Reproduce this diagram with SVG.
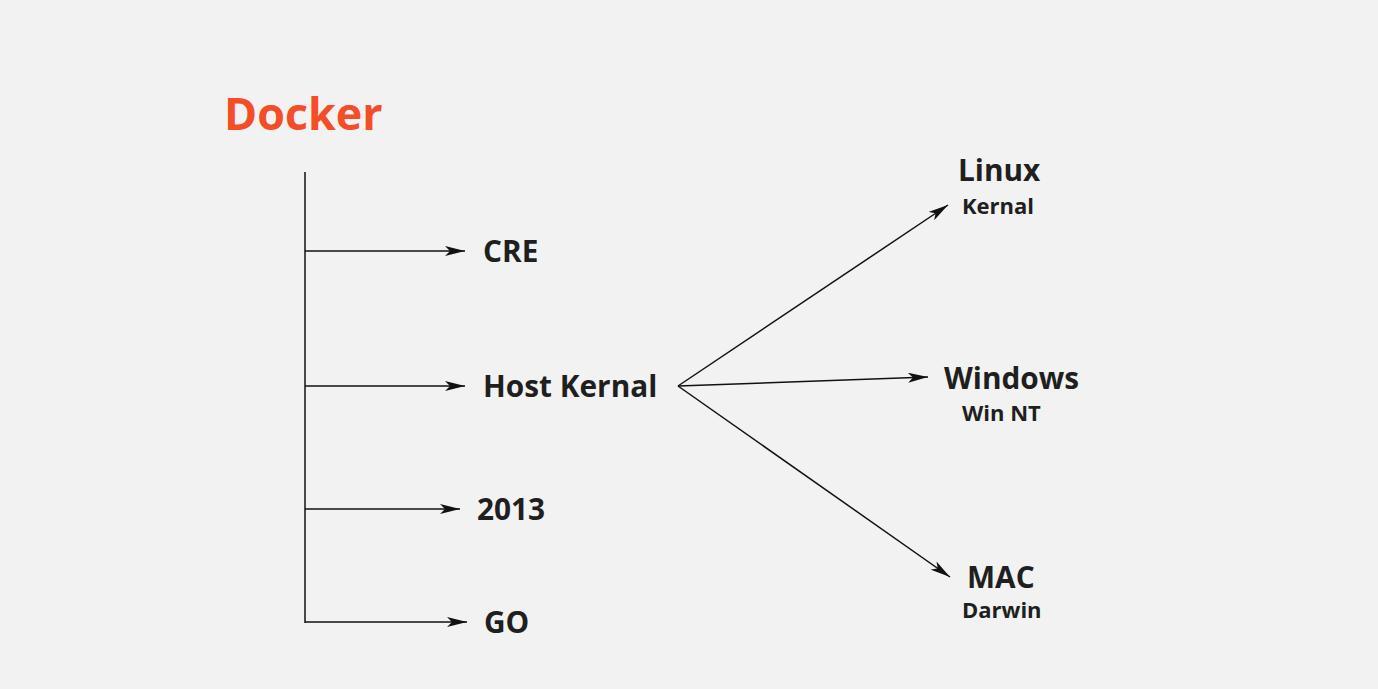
<svg xmlns="http://www.w3.org/2000/svg" width="1378" height="689" viewBox="0 0 1378 689">
<style>
.t{font-family:"Open Sans","Noto Sans",sans-serif;font-weight:700;fill:#1f1f1f}
.l{font-size:29.8px}
.s{font-size:22px}
.c{stroke:#111;stroke-width:1.5;fill:none}
</style>
<defs>
<marker id="a" viewBox="0 0 20 10" refX="20" refY="5" markerWidth="20" markerHeight="10" markerUnits="userSpaceOnUse" orient="auto">
<path d="M0,0 L20,5 L0,10 L5,5 Z" fill="#111"/>
</marker>
</defs>
<rect width="1378" height="689" fill="#f2f2f2"/>
<g id="connectors">
<line class="c" x1="305" y1="172" x2="305" y2="623"/>
<line class="c" x1="305" y1="251" x2="465" y2="251" marker-end="url(#a)"/>
<line class="c" x1="305" y1="386" x2="465" y2="386" marker-end="url(#a)"/>
<line class="c" x1="305" y1="509" x2="460" y2="509" marker-end="url(#a)"/>
<line class="c" x1="305" y1="622" x2="467" y2="622" marker-end="url(#a)"/>
<line class="c" x1="678" y1="386" x2="948" y2="205" marker-end="url(#a)"/>
<line class="c" x1="678" y1="386" x2="928" y2="377" marker-end="url(#a)"/>
<line class="c" x1="678" y1="386" x2="950" y2="577" marker-end="url(#a)"/>
</g>
<g id="docker"><text x="224" y="130" style="font-family:'Open Sans','Noto Sans',sans-serif;font-weight:700;font-size:44.8px;fill:#f44d28">Docker</text></g>
<g id="cre"><text class="t l" x="483" y="262">CRE</text></g>
<g id="host"><text class="t l" x="483" y="397">Host Kernal</text></g>
<g id="y2013"><text class="t l" x="477" y="520">2013</text></g>
<g id="go"><text class="t l" x="484" y="633">GO</text></g>
<g id="linux"><text class="t l" x="958" y="181">Linux</text><text class="t s" x="962" y="214">Kernal</text></g>
<g id="windows"><text class="t l" x="944" y="389">Windows</text><text class="t s" x="962" y="421">Win NT</text></g>
<g id="mac"><text class="t l" x="967" y="588">MAC</text><text class="t s" x="962" y="618">Darwin</text></g>
</svg>
